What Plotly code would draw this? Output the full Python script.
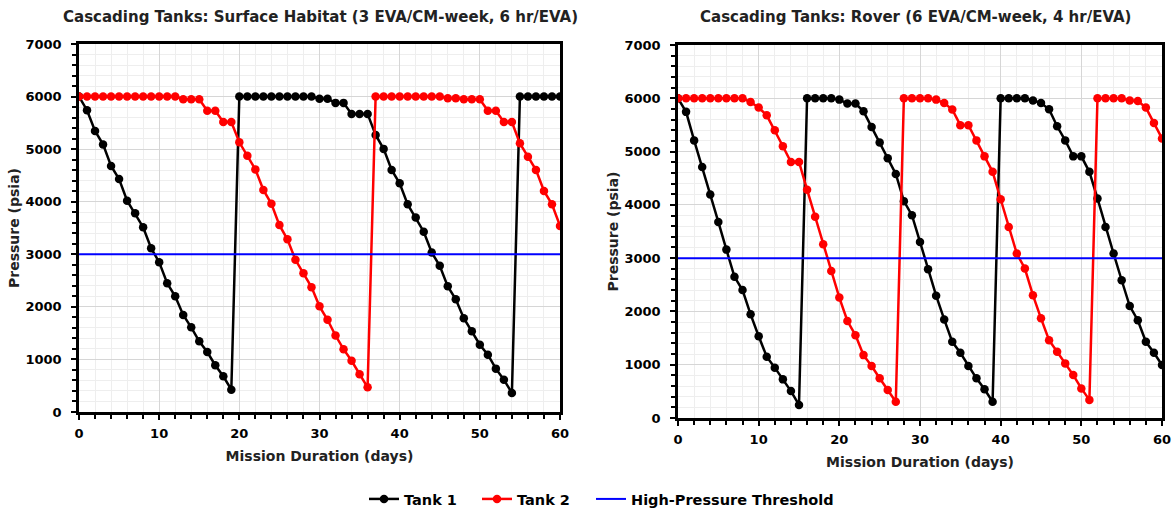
import plotly.graph_objects as go

days = list(range(61))

hab_tank1 = [6000, 5740, 5345, 5090, 4680, 4430, 4020, 3780, 3515, 3115, 2850, 2450, 2200, 1845, 1610, 1345, 1140, 890, 680, 425,
             6000, 6000, 6000, 6000, 6000, 6000, 6000, 6000, 6000, 6000,
             5960, 5960, 5880, 5880, 5670, 5670, 5670,
             5270, 5005, 4605, 4350, 3950, 3700, 3430, 3035, 2780, 2390, 2145, 1785, 1535, 1280, 1090, 825, 615, 360,
             6000, 6000, 6000, 6000, 6000, 6000]
hab_tank2 = [6000] * 13 + [5950, 5950, 5950, 5730, 5730, 5515, 5515,
             5130, 4875, 4615, 4225, 3960, 3555, 3285, 2895, 2640, 2375, 2010, 1755, 1455, 1195, 975, 720, 470] + \
            [6000] * 9 + [5970, 5970, 5950, 5950, 5950, 5730, 5730, 5515, 5515, 5110, 4855, 4605, 4205, 3950, 3540]

rov_tank1 = [6000, 5745, 5210, 4710, 4195, 3680, 3160, 2650, 2400, 1945, 1535, 1150, 945, 725, 505, 245,
             6000, 6000, 6000, 6000,
             5975, 5900, 5900, 5755, 5460, 5170, 4875, 4580, 4070, 3805, 3305, 2790, 2295, 1850, 1430, 1225, 975, 745, 540, 305,
             6000, 6000, 6000, 6000,
             5960, 5910, 5795, 5475, 5210, 4910, 4910, 4620, 4120, 3585, 3085, 2585, 2100, 1835, 1430, 1225, 995]
rov_tank2 = [6000] * 9 + [5930, 5825, 5680, 5400, 5100, 4805, 4805, 4285, 3775, 3260, 2760, 2260, 1820, 1555, 1180, 975, 745, 525, 305] + \
            [6000] * 4 + [5975, 5910, 5790, 5495, 5495, 5210, 4910, 4620, 4105, 3585, 3085, 2805, 2305, 1870, 1460, 1245, 1025, 805, 555, 340] + \
            [6000] * 4 + [5960, 5950, 5825, 5535, 5245]

threshold_days = [0, 60]
threshold = [3000, 3000]

titles = ["Cascading Tanks: Surface Habitat (3 EVA/CM-week, 6 hr/EVA)",
          "Cascading Tanks: Rover (6 EVA/CM-week, 4 hr/EVA)"]

FONT = "DejaVu Sans"
W, H = 1173, 513


def px(x):
    return x / W


def py(y):
    return 1 - y / H


fig = go.Figure()

panels = [(hab_tank1, hab_tank2, "x", "y"), (rov_tank1, rov_tank2, "x2", "y2")]
for i, (t1, t2, xa, ya) in enumerate(panels):
    show = (i == 0)
    fig.add_trace(go.Scatter(x=days, y=t1, mode="lines+markers", name="Tank 1",
                             line=dict(color="black", width=2.5), marker=dict(color="black", size=8.5),
                             xaxis=xa, yaxis=ya, showlegend=show, legend="legend"))
    fig.add_trace(go.Scatter(x=days, y=t2, mode="lines+markers", name="Tank 2",
                             line=dict(color="#ff0000", width=2.5), marker=dict(color="#ff0000", size=8.5),
                             xaxis=xa, yaxis=ya, showlegend=show, legend="legend2"))
    fig.add_trace(go.Scatter(x=threshold_days, y=threshold, mode="lines", name="High-Pressure Threshold",
                             line=dict(color="#0000ff", width=2),
                             xaxis=xa, yaxis=ya, showlegend=show, legend="legend3"))


def xaxis(dom, anchor):
    return dict(domain=dom, anchor=anchor, range=[0, 60], dtick=10, tick0=0, automargin=False,
                showline=True, linecolor="black", linewidth=2.5, mirror=True,
                ticks="outside", ticklen=5, tickwidth=2, tickcolor="black", ticklabelstandoff=3,
                showgrid=True, gridcolor="#d6d6d6", gridwidth=1, zeroline=False,
                minor=dict(dtick=2, showgrid=True, gridcolor="#eeeeee", ticks="outside", ticklen=4,
                           tickwidth=1.5, tickcolor="black"),
                tickfont=dict(family=FONT, size=13, color="black", weight="bold"),
                title=dict(text="Mission Duration (days)", standoff=11,
                           font=dict(family=FONT, size=14, color="#222", weight="bold")))


def yaxis(dom, anchor):
    return dict(domain=dom, anchor=anchor, range=[0, 7000], dtick=1000, tick0=0, automargin=False,
                showline=True, linecolor="black", linewidth=2.5, mirror=True,
                ticks="outside", ticklen=5, tickwidth=2, tickcolor="black", ticklabelstandoff=7,
                showgrid=True, gridcolor="#d6d6d6", gridwidth=1, zeroline=False,
                minor=dict(dtick=200, showgrid=True, gridcolor="#eeeeee", ticks="outside", ticklen=4,
                           tickwidth=1.5, tickcolor="black"),
                tickfont=dict(family=FONT, size=13, color="black", weight="bold"),
                title=dict(text="Pressure (psia)", standoff=3,
                           font=dict(family=FONT, size=14, color="#222", weight="bold")))


def legend_at(xpix):
    return dict(orientation="h", x=px(xpix), xanchor="left", y=py(499), yanchor="middle",
                font=dict(family=FONT, size=14.5, color="black", weight="bold"),
                itemwidth=30, bgcolor="rgba(0,0,0,0)")


fig.update_layout(
    width=W, height=H,
    margin=dict(l=0, r=0, t=0, b=0, autoexpand=False),
    paper_bgcolor="white", plot_bgcolor="white",
    xaxis=xaxis([px(79), px(560)], "y"),
    yaxis=yaxis([py(412), py(44)], "x"),
    xaxis2=xaxis([px(678), px(1162)], "y2"),
    yaxis2=yaxis([py(418), py(45)], "x2"),
    legend=legend_at(364),
    legend2=legend_at(477),
    legend3=legend_at(591),
    annotations=[
        dict(text=titles[0], x=px(320), y=py(17), xref="paper", yref="paper",
             xanchor="center", yanchor="middle", showarrow=False,
             font=dict(family=FONT, size=15, color="#222", weight="bold")),
        dict(text=titles[1], x=px(915), y=py(17), xref="paper", yref="paper",
             xanchor="center", yanchor="middle", showarrow=False,
             font=dict(family=FONT, size=15, color="#222", weight="bold")),
    ],
)

fig.write_html("out.html", config={"displayModeBar": False},
               post_script="document.body.style.margin='0';document.body.style.overflow='hidden';")
